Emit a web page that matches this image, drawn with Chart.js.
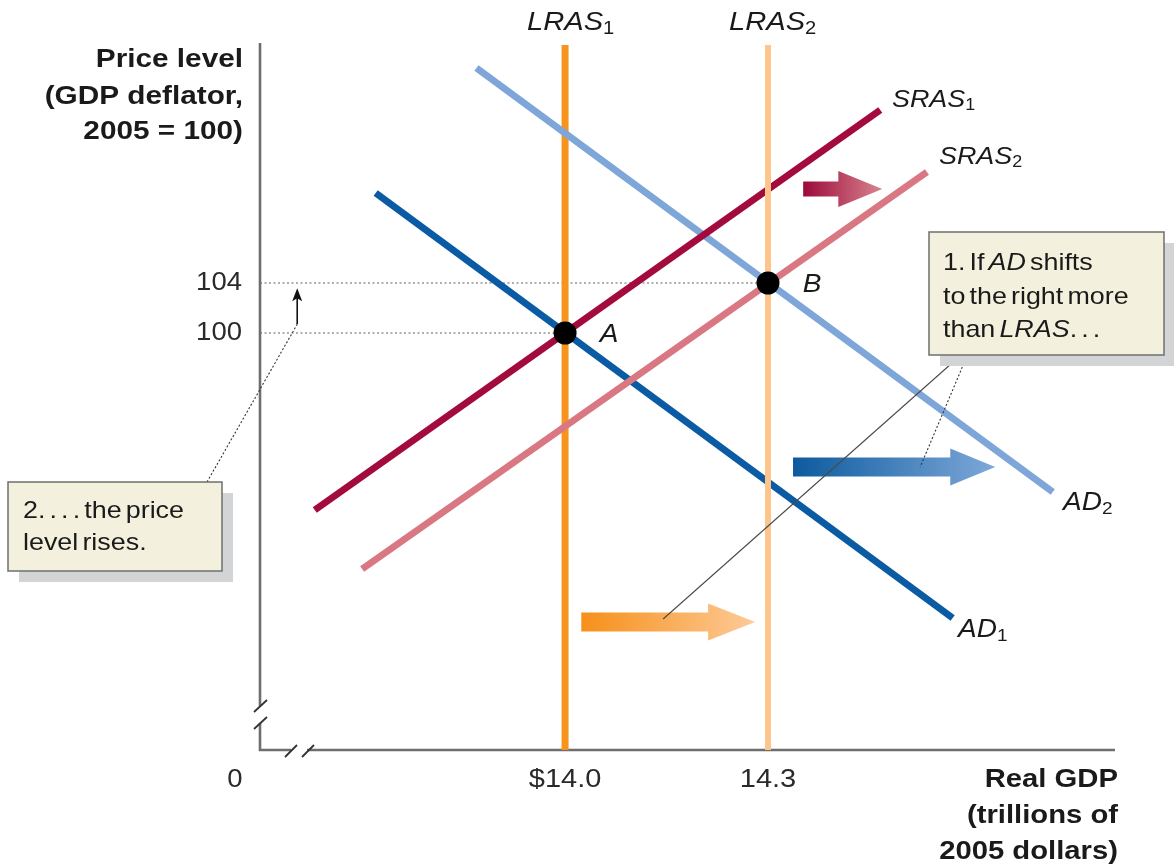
<!DOCTYPE html>
<html>
<head>
<meta charset="utf-8">
<title>AD shifts to the right more than LRAS</title>
<script src="https://cdn.jsdelivr.net/npm/chart.js@4.4.1/dist/chart.umd.min.js"></script>
<style>
  html, body { margin: 0; padding: 0; background: #fff; }
  #chart_area { width: 1174px; height: 867px; }
</style>
</head>
<body>
<div id="chart_area"><canvas id="price_chart" width="1174" height="867"></canvas></div>
<script>
// Values: x = real GDP (trillions of 2005 dollars), y = price level
const gdpTicks = [14.0, 14.3];
const gdpTickLabels = ["$14.0", "14.3"];
const priceTicks = [100, 104];
const priceTickLabels = ["100", "104"];

// Visible part of both axes (the axes are broken near the origin)
const gdpRange = [13.549, 14.813];
const priceRange = [66.64, 123.2];

// Curves as [start, end] points
const lras1 = [[14.0, 66.64], [14.0, 123.04]];
const lras2 = [[14.3, 66.64], [14.3, 123.04]];
const sras1 = [[13.63, 85.84], [14.466, 117.84]];
const sras2 = [[13.70, 81.12], [14.535, 112.88]];
const ad1 = [[13.72, 111.2], [14.573, 77.2]];
const ad2 = [[13.869, 121.2], [14.721, 87.28]];

// Equilibrium points
const eqGdp = [14.0, 14.3];
const eqPrice = [100, 104];
const eqNames = ["A", "B"];

// Shift arrows (SRAS, AD, LRAS): tail gdp, tip gdp, price level
const shiftFrom = [14.352, 14.337, 14.024];
const shiftTo = [14.469, 14.636, 14.281];
const shiftPrice = [111.52, 89.28, 76.88];

// Small arrow showing the price level rise: gdp, from price, to price
const riseGdp = 13.604;
const riseFrom = 100.7;
const riseTo = 103.5;

const FONT = '"Liberation Sans", Arial, Helvetica, sans-serif';
const SX = 1.12; // the original lettering is a bit wider than Arial
const INK = "#1a1a1a";

/**
 * Turns a list of [x, y] pairs into chart points.
 */
function to_points(pairs) {
    return pairs.map(function (p) {
        return { x: p[0], y: p[1] };
    });
}

/**
 * Makes a straight line dataset.
 */
function line_set(label, pairs, color, width, dash) {
    return {
        label: label,
        data: to_points(pairs),
        showLine: true,
        borderColor: color,
        borderWidth: width,
        borderDash: dash || [],
        borderCapStyle: "butt",
        pointRadius: 0,
        pointHoverRadius: 0,
        fill: false
    };
}

/**
 * Draws text stretched horizontally by sx.
 */
function draw_text(ctx, str, x, y, font, align, color, sx) {
    ctx.save();
    ctx.font = font;
    ctx.fillStyle = color || INK;
    ctx.textBaseline = "middle";
    ctx.textAlign = align || "left";
    ctx.translate(x, y);
    ctx.scale(sx || SX, 1);
    ctx.fillText(str, 0, 0);
    ctx.restore();
}

/**
 * Draws a line of mixed regular / italic pieces starting at x.
 * Spaces are narrower than usual, as in the original notes.
 */
function draw_rich(ctx, pieces, x, y, size) {
    let cx = x;
    pieces.forEach(function (p) {
        const font = (p[1] ? "italic " : "") + size + "px " + FONT;
        ctx.font = font;
        const spaceW = ctx.measureText(" ").width * SX * 0.55;
        p[0].split(/( )/).forEach(function (tok) {
            if (tok === "") return;
            if (tok === " ") {
                cx += spaceW;
                return;
            }
            ctx.font = font;
            const w = ctx.measureText(tok).width * SX;
            draw_text(ctx, tok, cx, y, font, "left", INK);
            cx += w;
        });
    });
}

/**
 * Draws an italic curve name with a small subscript, left edge at x.
 */
function curve_label(ctx, name, sub, x, y, size) {
    const font = "italic " + size + "px " + FONT;
    ctx.font = font;
    const w = ctx.measureText(name).width * SX;
    draw_text(ctx, name, x, y, font, "left", INK);
    draw_text(ctx, sub, x + w, y + 6, Math.round(size * 0.68) + "px " + FONT, "left", INK);
}

/**
 * Draws a thick horizontal arrow with a colour gradient.
 */
function block_arrow(ctx, x0, x1, y, body, head, headLen, c0, c1) {
    const g = ctx.createLinearGradient(x0, 0, x1, 0);
    g.addColorStop(0, c0);
    g.addColorStop(1, c1);
    ctx.save();
    ctx.fillStyle = g;
    ctx.beginPath();
    ctx.moveTo(x0, y - body);
    ctx.lineTo(x1 - headLen, y - body);
    ctx.lineTo(x1 - headLen, y - head);
    ctx.lineTo(x1, y);
    ctx.lineTo(x1 - headLen, y + head);
    ctx.lineTo(x1 - headLen, y + body);
    ctx.lineTo(x0, y + body);
    ctx.closePath();
    ctx.fill();
    ctx.restore();
}

/**
 * Draws a note box with a drop shadow.
 */
function note_box(ctx, x, y, w, h) {
    ctx.save();
    ctx.fillStyle = "#d3d4d6";
    ctx.fillRect(x + 11, y + 11, w, h);
    ctx.fillStyle = "#f3f1dd";
    ctx.fillRect(x, y, w, h);
    ctx.strokeStyle = "#6f6f6f";
    ctx.lineWidth = 1.5;
    ctx.strokeRect(x, y, w, h);
    ctx.restore();
}

function thin_line(ctx, x0, y0, x1, y1, dash, color) {
    ctx.save();
    ctx.strokeStyle = color || "#444";
    ctx.lineWidth = 1.1;
    ctx.setLineDash(dash || []);
    ctx.beginPath();
    ctx.moveTo(x0, y0);
    ctx.lineTo(x1, y1);
    ctx.stroke();
    ctx.restore();
}

// Axes with break marks, drawn under the curves
const axesPlugin = {
    id: "axes",
    beforeDatasetsDraw(chart) {
        const ctx = chart.ctx;
        const a = chart.chartArea;
        const L = a.left, B = a.bottom;
        ctx.save();
        ctx.strokeStyle = "#6e6e6e";
        ctx.lineWidth = 2.6;
        ctx.beginPath();
        ctx.moveTo(L, a.top);
        ctx.lineTo(L, B - 44);
        ctx.moveTo(L, B - 27);
        ctx.lineTo(L, B);
        ctx.lineTo(L + 31, B);
        ctx.moveTo(L + 47, B);
        ctx.lineTo(a.right, B);
        ctx.stroke();

        ctx.strokeStyle = "#333";
        ctx.lineWidth = 1.8;
        ctx.beginPath();
        ctx.moveTo(L - 6, B - 38); ctx.lineTo(L + 7, B - 50);
        ctx.moveTo(L - 6, B - 21); ctx.lineTo(L + 7, B - 33);
        ctx.moveTo(L + 25, B + 7); ctx.lineTo(L + 37, B - 5);
        ctx.moveTo(L + 42, B + 7); ctx.lineTo(L + 54, B - 5);
        ctx.stroke();
        ctx.restore();
    }
};

// Labels, tick texts, shift arrows and note boxes
const notesPlugin = {
    id: "notes",
    afterDatasetsDraw(chart) {
        const ctx = chart.ctx;
        const xs = chart.scales.x;
        const ys = chart.scales.y;
        const a = chart.chartArea;
        const tickFont = "25px " + FONT;
        const boldFont = "bold 25px " + FONT;

        // tick labels from the scales' own ticks
        xs.ticks.forEach(function (t, i) {
            draw_text(ctx, gdpTickLabels[i], xs.getPixelForValue(t.value), 780, tickFont, "center", "#2a2a2a", 1.16);
        });
        ys.ticks.forEach(function (t, i) {
            draw_text(ctx, priceTickLabels[i], a.left - 18, ys.getPixelForValue(t.value), tickFont, "right", "#2a2a2a", 1.1);
        });
        draw_text(ctx, "0", a.left - 25, 780, tickFont, "center", "#2a2a2a", 1.1);

        // axis titles
        ["Price level", "(GDP deflator,", "2005 = 100)"].forEach(function (s, i) {
            draw_text(ctx, s, 243, [60, 97, 132][i], boldFont, "right", INK, 1.19);
        });
        ["Real GDP", "(trillions of", "2005 dollars)"].forEach(function (s, i) {
            draw_text(ctx, s, 1118, [780, 816, 852][i], boldFont, "right", INK, 1.17);
        });

        // curve names
        curve_label(ctx, "LRAS", "1", 527, 23, 26);
        curve_label(ctx, "LRAS", "2", 729, 23, 26);
        curve_label(ctx, "SRAS", "1", 892, 100, 24);
        curve_label(ctx, "SRAS", "2", 939, 157, 24);
        curve_label(ctx, "AD", "2", 1063, 503, 25);
        curve_label(ctx, "AD", "1", 958, 630, 25);

        // equilibrium point names
        eqNames.forEach(function (n, i) {
            draw_text(ctx, n, xs.getPixelForValue(eqGdp[i]) + 44, ys.getPixelForValue(eqPrice[i]) + 2,
                "italic 25px " + FONT, "center", INK);
        });

        // shift arrows
        const arrowStyle = [
            { body: 7.5, head: 18, len: 44, c0: "#9c0a3a", c1: "#d9848f" },
            { body: 9.5, head: 18.5, len: 45, c0: "#0c5a9e", c1: "#7ea8d9" },
            { body: 9.5, head: 18.5, len: 47, c0: "#f6901a", c1: "#fdca98" }
        ];
        shiftFrom.forEach(function (v, i) {
            const s = arrowStyle[i];
            block_arrow(ctx, xs.getPixelForValue(v), xs.getPixelForValue(shiftTo[i]),
                ys.getPixelForValue(shiftPrice[i]), s.body, s.head, s.len, s.c0, s.c1);
        });

        // price rise arrow
        const rx = xs.getPixelForValue(riseGdp);
        const ry0 = ys.getPixelForValue(riseFrom);
        const ry1 = ys.getPixelForValue(riseTo);
        ctx.save();
        ctx.strokeStyle = "#111";
        ctx.lineWidth = 1.6;
        ctx.beginPath();
        ctx.moveTo(rx, ry0);
        ctx.lineTo(rx, ry1 + 8);
        ctx.stroke();
        ctx.fillStyle = "#111";
        ctx.beginPath();
        ctx.moveTo(rx, ry1 - 1);
        ctx.lineTo(rx - 5, ry1 + 12);
        ctx.lineTo(rx, ry1 + 9);
        ctx.lineTo(rx + 5, ry1 + 12);
        ctx.closePath();
        ctx.fill();
        ctx.restore();

        // leader lines
        const orangeX = xs.getPixelForValue(14.145);
        const orangeY = ys.getPixelForValue(shiftPrice[2]) - 3;
        const blueX = xs.getPixelForValue(14.525);
        const blueY = ys.getPixelForValue(shiftPrice[1]);
        thin_line(ctx, 960, 356, orangeX, orangeY, [], "#4a4a4a");
        thin_line(ctx, 967, 356, blueX, blueY, [2, 2], "#333");
        thin_line(ctx, 207, 482, rx, ry0, [2, 2], "#333");

        // note boxes
        note_box(ctx, 929, 232, 235, 123);
        draw_rich(ctx, [["1. If ", false], ["AD", true], [" shifts", false]], 943, 263, 24);
        draw_rich(ctx, [["to the right more", false]], 943, 297, 24);
        draw_rich(ctx, [["than ", false], ["LRAS", true], [". . .", false]], 943, 330, 24);

        note_box(ctx, 8, 482, 214, 89);
        draw_rich(ctx, [["2. . . . the price", false]], 23, 511, 24);
        draw_rich(ctx, [["level rises.", false]], 23, 543, 24);
    }
};

function create_chart(canvasId) {
    const guides = eqGdp.map(function (g, i) {
        return line_set("guide " + eqNames[i], [[gdpRange[0], eqPrice[i]], [g, eqPrice[i]]], "#5f5f5f", 1.2, [2, 2.5]);
    });

    const equilibria = {
        label: "equilibria",
        data: eqGdp.map(function (g, i) { return { x: g, y: eqPrice[i] }; }),
        showLine: false,
        pointRadius: 11.5,
        pointHoverRadius: 11.5,
        pointBackgroundColor: "#000",
        pointBorderWidth: 0
    };

    // the first dataset is painted last, so it ends up on top
    const datasets = [
        equilibria,
        line_set("LRAS2", lras2, "#fdc48c", 6),
        line_set("SRAS1", sras1, "#a30b3d", 7),
        line_set("SRAS2", sras2, "#d97882", 7),
        line_set("AD1", ad1, "#0b5ba4", 7),
        line_set("AD2", ad2, "#7ea6d8", 7),
        line_set("LRAS1", lras1, "#f7941d", 7)
    ].concat(guides);

    new Chart(document.getElementById(canvasId), {
        type: "scatter",
        data: { datasets: datasets },
        options: {
            responsive: false,
            devicePixelRatio: 1,
            animation: false,
            layout: { padding: { top: 43, right: 59, left: 0, bottom: 0 } },
            plugins: {
                legend: { display: false },
                tooltip: { enabled: false }
            },
            scales: {
                x: {
                    type: "linear",
                    min: gdpRange[0],
                    max: gdpRange[1],
                    afterBuildTicks: function (s) { s.ticks = gdpTicks.map(function (v) { return { value: v }; }); },
                    afterFit: function (s) { s.height = 117; },
                    ticks: { display: false },
                    grid: { display: false, drawTicks: false },
                    border: { display: false }
                },
                y: {
                    type: "linear",
                    min: priceRange[0],
                    max: priceRange[1],
                    afterBuildTicks: function (s) { s.ticks = priceTicks.map(function (v) { return { value: v }; }); },
                    afterFit: function (s) { s.width = 260; },
                    ticks: { display: false },
                    grid: { display: false, drawTicks: false },
                    border: { display: false }
                }
            }
        },
        plugins: [axesPlugin, notesPlugin]
    });
}

create_chart("price_chart");
</script>
</body>
</html>
